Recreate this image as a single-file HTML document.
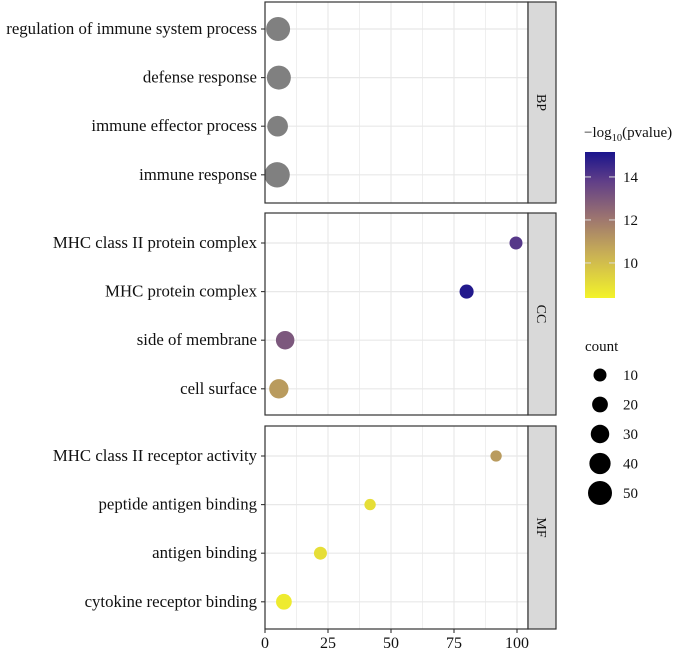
<!DOCTYPE html>
<html><head><meta charset="utf-8"><style>
body{margin:0;background:#fff}
svg text{font-family:"Liberation Serif",serif;fill:#111}
</style></head><body>
<svg id="c" width="685" height="652" xmlns="http://www.w3.org/2000/svg">
<defs><linearGradient id="g" x1="0" y1="1" x2="0" y2="0">
<stop offset="0" stop-color="#f3f32a"/><stop offset="0.3" stop-color="#c9b055"/><stop offset="0.55" stop-color="#9c7470"/><stop offset="0.8" stop-color="#603e88"/><stop offset="1" stop-color="#1a148c"/></linearGradient></defs>
</svg>
<script>
const panels=['BP','CC','MF'];
const terms=[
['regulation of immune system process','defense response','immune effector process','immune response'],
['MHC class II protein complex','MHC protein complex','side of membrane','cell surface'],
['MHC class II receptor activity','peptide antigen binding','antigen binding','cytokine receptor binding']];
const xVals=[[5.2,5.5,5,4.8],[99.6,80,8,5.5],[91.7,41.7,22,7.5]];
const counts=[[50,50,38,55],[10,14,30,33],[4,4,10,20]];
const pvals=[[null,null,null,null],[14,15,13,11],[11,9,9,8.6]];
const xTicks=[0,25,50,75,100];
const colorTicks=[10,12,14];
const sizeTicks=[10,20,30,40,50];
const svg=document.getElementById('c');const NS='http://www.w3.org/2000/svg';
function mk(t,a,p){const e=document.createElementNS(NS,t);for(const k in a)e.setAttribute(k,a[k]);(p||svg).appendChild(e);return e;}
const X0=265,PR=528;const xs=v=>X0+v*2.52;
const pTop=[2,213,426],pH=[201,202,203];
const rowStart=[29,243,456];
const ys=(p,i)=>rowStart[p]+i*48.6;
const dia=c=>10.25+0.275*c;
const cmin=8.37,cmax=15.16;
function col(v){if(v==null)return '#808080';const t=(v-cmin)/(cmax-cmin);
const st=[[0,[243,243,42]],[0.3,[201,176,85]],[0.55,[156,116,112]],[0.8,[96,62,136]],[1,[26,20,140]]];
for(let k=1;k<st.length;k++){if(t<=st[k][0]){const a=st[k-1],b=st[k],f=(t-a[0])/(b[0]-a[0]);return 'rgb('+a[1].map((c,j)=>Math.round(c+(b[1][j]-c)*f)).join(',')+')';}}return 'rgb(26,20,140)';}
panels.forEach((pn,p)=>{
 const g=mk('g',{});
 
 
 mk('rect',{x:X0,y:pTop[p],width:PR-X0,height:pH[p],fill:'#fff'},g);
 for(let v=0;v<=112.5;v+=12.5){const x=xs(v);if(x>PR)break;mk('line',{x1:x,x2:x,y1:pTop[p],y2:pTop[p]+pH[p],stroke:'#e8e8e8','stroke-width':v%25==0?1.2:0.7},g);}
 terms[p].forEach((t,i)=>{const y=ys(p,i);
  mk('line',{x1:X0,x2:PR,y1:y,y2:y,stroke:'#e8e8e8','stroke-width':1.2},g);
  mk('line',{x1:X0-4,x2:X0,y1:y,y2:y,stroke:'#333','stroke-width':1.1},g);
  const tx=mk('text',{x:X0-8,y:y+5,'text-anchor':'end','font-size':16.8},g);tx.textContent=t;
  
  
 });
 terms[p].forEach((t,i)=>{const c=mk('circle',{cx:xs(xVals[p][i]),cy:ys(p,i),r:dia(counts[p][i])/2,fill:col(pvals[p][i])},g);
  
  });
 mk('rect',{x:X0,y:pTop[p],width:PR-X0,height:pH[p],fill:'none',stroke:'#333','stroke-width':1.2},g);
 const s=mk('rect',{x:PR,y:pTop[p],width:28,height:pH[p],fill:'#d9d9d9',stroke:'#333','stroke-width':1.2},g);
 
 
 const st=mk('text',{x:0,y:0,'text-anchor':'middle','font-size':14,transform:`translate(${PR+9},${pTop[p]+pH[p]/2}) rotate(90)`},g);st.textContent=pn;
});
const ax=mk('g',{});


xTicks.forEach(v=>{mk('line',{x1:xs(v),x2:xs(v),y1:629,y2:633,stroke:'#333','stroke-width':1.1},ax);
 const t=mk('text',{x:xs(v),y:648,'text-anchor':'middle','font-size':16},ax);t.textContent=v;});
const lg=mk('g',{});


const lt=mk('text',{x:584,y:137,'font-size':15},lg);lt.innerHTML='−log<tspan font-size="10.5" dy="4">10</tspan><tspan dy="-4">(pvalue)</tspan>';
mk('rect',{x:585,y:152,width:30,height:146,fill:'url(#g)'},lg);
const cy=v=>298-(v-cmin)/(cmax-cmin)*146;
colorTicks.forEach(v=>{mk('line',{x1:585,x2:591,y1:cy(v),y2:cy(v),stroke:'#ddd','stroke-width':1},lg);mk('line',{x1:609,x2:615,y1:cy(v),y2:cy(v),stroke:'#ddd','stroke-width':1},lg);
 const t=mk('text',{x:623,y:cy(v)+5,'font-size':15},lg);t.textContent=v;});
const sl=mk('g',{});


const st2=mk('text',{x:585,y:351,'font-size':15},sl);st2.textContent='count';
sizeTicks.forEach((v,i)=>{const y=375+i*29.5;mk('circle',{cx:600,cy:y,r:dia(v)/2,fill:'#000'},sl);
 const t=mk('text',{x:623,y:y+5,'font-size':15},sl);t.textContent=v;});
</script>
</body></html>
